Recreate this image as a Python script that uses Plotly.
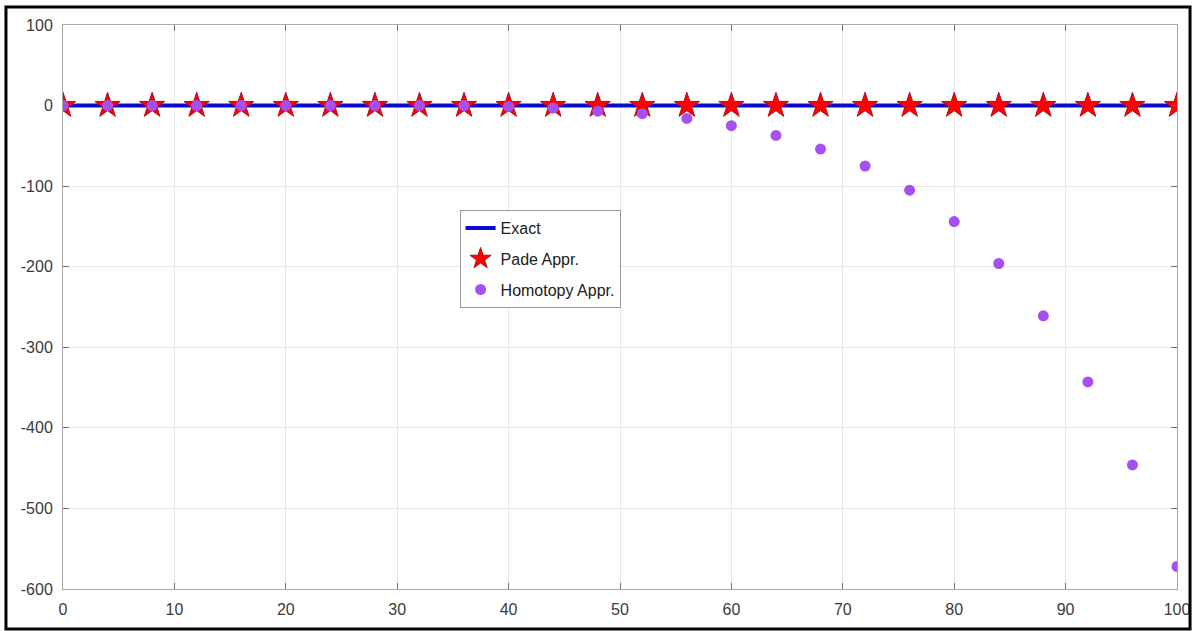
import plotly.graph_objects as go

x_vals = [0, 4, 8, 12, 16, 20, 24, 28, 32, 36, 40, 44, 48, 52, 56, 60, 64, 68, 72, 76, 80, 84, 88, 92, 96, 100]
exact = [0] * 26
pade = [0] * 26
homotopy = [0, 0, 0, 0, 0, 0, 0, 0, 0, 0, -1, -3, -7, -10, -16, -25, -37, -54, -75, -105, -144, -196, -261, -343, -446, -572]

x_ticks = [0, 10, 20, 30, 40, 50, 60, 70, 80, 90, 100]
y_ticks = [-600, -500, -400, -300, -200, -100, 0, 100]
y_tick_text = ["-600", "-500", "-400", "-300", "-200", "-100", "0", "100"]

fig = go.Figure()
fig.add_trace(go.Scatter(x=x_vals, y=exact, mode="lines", name="Exact",
                         line=dict(color="#0a0ad0", width=4), legendgroup="a"))
fig.add_trace(go.Scatter(x=x_vals, y=pade, mode="markers", name="Pade Appr.",
                         marker=dict(symbol="star", size=19, color="#ff0000",
                                     line=dict(color="#b01010", width=1)), legendgroup="b"))
fig.add_trace(go.Scatter(x=x_vals, y=homotopy, mode="markers", name="Homotopy Appr.",
                         marker=dict(symbol="circle", size=11, color="#a64ff2",
                                     line=dict(width=0)), legendgroup="c"))

axis_common = dict(showgrid=True, gridcolor="#e8e8e8", gridwidth=1,
                   showline=True, linecolor="#a8a8a8", linewidth=1, mirror="ticks",
                   ticks="inside", ticklen=6, tickcolor="#707070",
                   zeroline=False, ticklabelstandoff=6, automargin=False,
                   tickfont=dict(family="Liberation Sans, Arial", size=16, color="#3a3a3a"))

fig.update_xaxes(range=[0, 100], tickvals=x_ticks, **axis_common)
fig.update_yaxes(range=[-600, 100], tickvals=y_ticks, ticktext=y_tick_text, **axis_common)

fig.update_layout(
    width=1192, height=631,
    margin=dict(l=63, r=15, t=25, b=42),
    paper_bgcolor="white", plot_bgcolor="white",
    font=dict(family="Liberation Sans, Arial", size=16, color="#202020"),
    legend=dict(x=0.356, y=0.672, xanchor="left", yanchor="top",
                bgcolor="white", bordercolor="#9a9a9a", borderwidth=1,
                font=dict(size=16, color="#202020"), tracegroupgap=7,
                itemwidth=30),
    shapes=[dict(type="rect", xref="paper", yref="paper",
                 x0=-0.0512, x1=1.0117, y0=-0.0709, y1=1.0319,
                 line=dict(color="black", width=3), layer="above")],
)

fig.write_html("out.html", config={"displayModeBar": False},
               post_script="document.body.style.margin='0';document.body.style.overflow='hidden';")
